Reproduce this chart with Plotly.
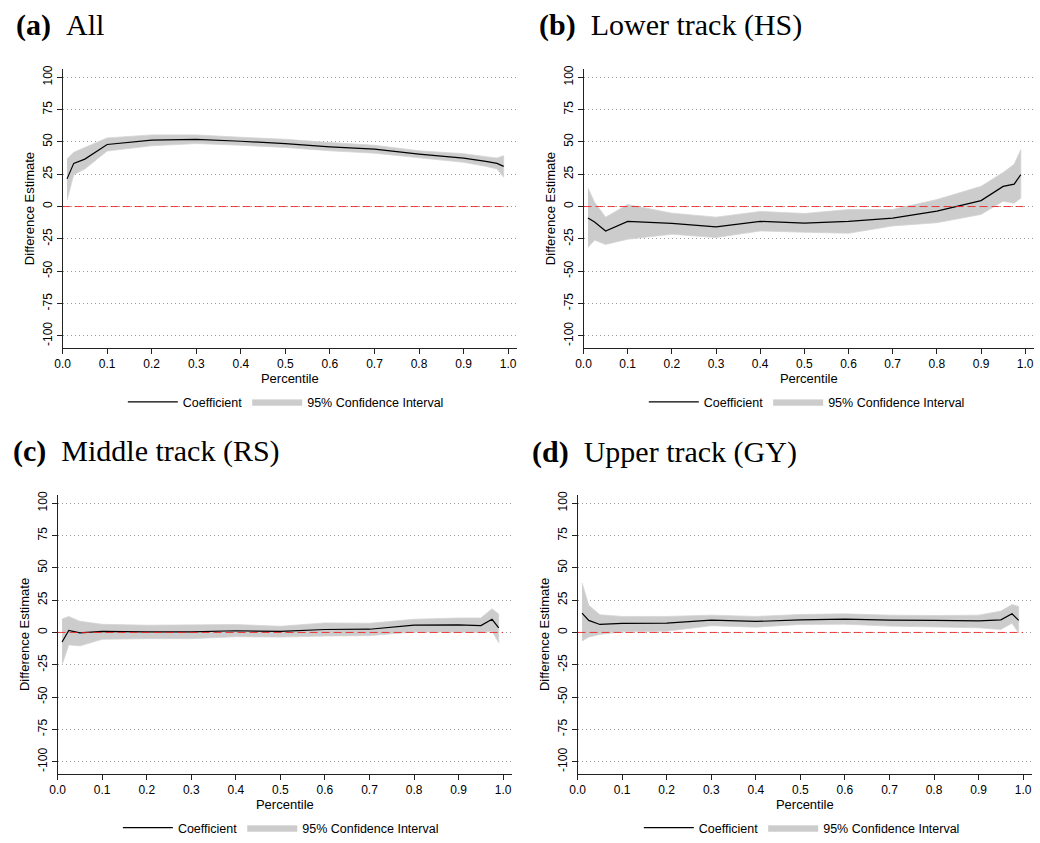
import plotly.graph_objects as go

# ---------------- data ----------------
PCT = [0.01, 0.025, 0.05, 0.1, 0.2, 0.3, 0.4, 0.5, 0.6, 0.7, 0.8, 0.9, 0.95, 0.975, 0.99]

A_COEF = [21.4, 33.4, 36.7, 48.0, 51.3, 52.0, 50.5, 48.7, 46.2, 44.4, 40.6, 37.5, 35.0, 33.4, 31.1]
A_UP = [36.7, 41.9, 45.7, 53.1, 55.4, 55.4, 53.6, 52.0, 49.5, 47.4, 43.1, 40.9, 38.6, 37.5, 39.3]
A_LO = [4.9, 24.5, 29.0, 42.9, 47.0, 48.7, 47.4, 45.7, 43.1, 41.3, 38.0, 34.2, 31.1, 29.0, 22.7]

B_COEF = [-8.9, -12.0, -18.9, -11.5, -13.0, -15.8, -11.5, -12.8, -11.5, -8.9, -3.6, 4.6, 15.6, 17.3, 24.7]
B_UP = [14.3, 3.3, -8.2, 1.5, -5.1, -8.2, -3.8, -5.4, -2.3, -2.3, 5.4, 15.6, 26.3, 32.7, 44.0]
B_LO = [-31.6, -26.0, -29.3, -25.3, -21.4, -24.0, -18.9, -19.9, -20.7, -15.0, -12.5, -6.1, 4.1, 2.6, 6.5]

C_COEF = [-7.4, 1.5, -0.3, 0.8, 0.5, 0.5, 1.3, 0.8, 2.3, 2.5, 5.6, 5.8, 5.3, 10.2, 3.6]
C_UP = [10.4, 12.4, 8.6, 6.3, 5.6, 5.6, 6.1, 4.8, 7.4, 7.1, 10.2, 11.2, 11.2, 18.3, 14.2]
C_LO = [-25.1, -9.6, -10.4, -5.3, -4.8, -4.8, -3.3, -3.6, -2.8, -2.5, 0.3, 0.3, 0.0, 1.0, -7.9]

D_COEF = [14.9, 9.3, 6.2, 7.0, 7.2, 9.5, 8.5, 9.8, 10.3, 9.5, 9.3, 9.0, 9.8, 14.4, 9.3]
D_UP = [38.4, 21.1, 13.7, 12.4, 12.4, 13.4, 12.4, 13.9, 14.4, 13.4, 13.1, 13.4, 16.5, 21.6, 20.1]
D_LO = [-6.7, -3.6, -1.5, 0.5, 1.0, 5.2, 4.1, 6.2, 6.4, 4.9, 4.1, 3.6, 2.3, 7.2, -0.5]

PANEL_TAGS = ["(a)", "(b)", "(c)", "(d)"]
PANEL_NAMES = ["All", "Lower track (HS)", "Middle track (RS)", "Upper track (GY)"]

X_TICKS = [0.0, 0.1, 0.2, 0.3, 0.4, 0.5, 0.6, 0.7, 0.8, 0.9, 1.0]
X_LABELS = ["0.0", "0.1", "0.2", "0.3", "0.4", "0.5", "0.6", "0.7", "0.8", "0.9", "1.0"]
Y_TICKS = [-100, -75, -50, -25, 0, 25, 50, 75, 100]
Y_LABELS = ["-100", "-75", "-50", "-25", "0", "25", "50", "75", "100"]

X_TITLE = "Percentile"
Y_TITLE = "Difference Estimate"
LINE_NAME = "Coefficient"
BAND_NAME = "95% Confidence Interval"

# ---------------- layout (pixels) ----------------
W, H = 1040, 843
# plot areas: (left, right, top, bottom) in px
AREAS = [(55, 513, 66, 347), (580, 1034, 66, 347), (50, 508, 496, 777), (574, 1032, 496, 777)]
TITLE_POS = [(6, 21), (533, 21), (3, 451), (526, 452)]
LEGEND_POS = [(280, 402), (805, 402), (275, 832), (800, 832)]
X_RANGE = [0, 1.02]
Y_RANGE = [-109.2, 106.1]

BAND_COLOR = "#cccccc"
SANS = "Liberation Sans, Arial, sans-serif"
SERIF = "Liberation Serif, Times New Roman, serif"

series = [(A_COEF, A_UP, A_LO), (B_COEF, B_UP, B_LO), (C_COEF, C_UP, C_LO), (D_COEF, D_UP, D_LO)]

fig = go.Figure()
layout = dict(
    width=W, height=H,
    margin=dict(l=0, r=0, t=0, b=0),
    paper_bgcolor="white", plot_bgcolor="white",
    showlegend=True,
    font=dict(family=SANS, color="black", size=12),
)
annotations = []
shapes = []

for i, (coef, up, lo) in enumerate(series):
    n = "" if i == 0 else str(i + 1)
    xa, ya = "x" + n, "y" + n
    leg = "legend" + n
    left, right, top, bottom = AREAS[i]

    fig.add_trace(go.Scatter(
        x=PCT + PCT[::-1], y=up + lo[::-1],
        fill="toself", fillcolor=BAND_COLOR,
        line=dict(color="#d4d4d4", width=0.8),
        mode="lines", name=BAND_NAME, legend=leg, legendrank=2,
        xaxis=xa, yaxis=ya, hoverinfo="skip",
    ))
    fig.add_trace(go.Scatter(
        x=PCT, y=coef, mode="lines",
        line=dict(color="black", width=1.2),
        name=LINE_NAME, legend=leg, legendrank=1,
        xaxis=xa, yaxis=ya,
    ))

    layout["xaxis" + n] = dict(
        domain=[left / W, right / W], range=X_RANGE, anchor=ya,
        tickmode="array", tickvals=X_TICKS, ticktext=X_LABELS,
        ticks="outside", ticklen=5, tickwidth=1, tickcolor="#222",
        showline=True, linecolor="#222", linewidth=1,
        showgrid=False, zeroline=False,
        tickfont=dict(size=12, family=SANS, color="black"),
        title=dict(text=X_TITLE, font=dict(size=13, family=SANS, color="black"), standoff=0),
        fixedrange=True,
    )
    layout["yaxis" + n] = dict(
        domain=[1 - bottom / H, 1 - top / H], range=Y_RANGE, anchor=xa,
        tickmode="array", tickvals=Y_TICKS, ticktext=Y_LABELS, tickangle=-90,
        ticks="outside", ticklen=5, tickwidth=1, tickcolor="#222",
        showline=True, linecolor="#222", linewidth=1,
        showgrid=True, gridcolor="#9a9a9a", gridwidth=1, griddash="1px,3px",
        zeroline=False,
        tickfont=dict(size=12, family=SANS, color="black"),
        title=dict(text=Y_TITLE, font=dict(size=13, family=SANS, color="black"), standoff=3),
        fixedrange=True,
    )
    lx, ly = LEGEND_POS[i]
    layout[leg] = dict(
        orientation="h", x=lx / W, xanchor="center", y=1 - ly / H, yanchor="middle",
        font=dict(size=12.5, family=SANS, color="black"),
        bgcolor="rgba(0,0,0,0)", itemwidth=50, traceorder="normal",
    )
    shapes.append(dict(
        type="line", xref=xa, yref=ya, x0=X_TICKS[0], x1=X_TICKS[-1], y0=0, y1=0,
        line=dict(color="rgba(235,30,30,0.85)", width=1, dash="8px,4px"), layer="above",
    ))
    tx, ty = TITLE_POS[i]
    annotations.append(dict(
        xref="paper", yref="paper", x=tx / W, y=1 - ty / H, xanchor="left", yanchor="middle",
        text="<b>" + PANEL_TAGS[i] + "</b>\u2002" + PANEL_NAMES[i],
        showarrow=False, font=dict(size=30, family=SERIF, color="black"),
    ))

layout["annotations"] = annotations
layout["shapes"] = shapes
fig.update_layout(**layout)
fig.write_html(
    "out.html",
    config={"displayModeBar": False},
    post_script="document.body.style.margin='0px';document.body.style.overflow='hidden';",
)
